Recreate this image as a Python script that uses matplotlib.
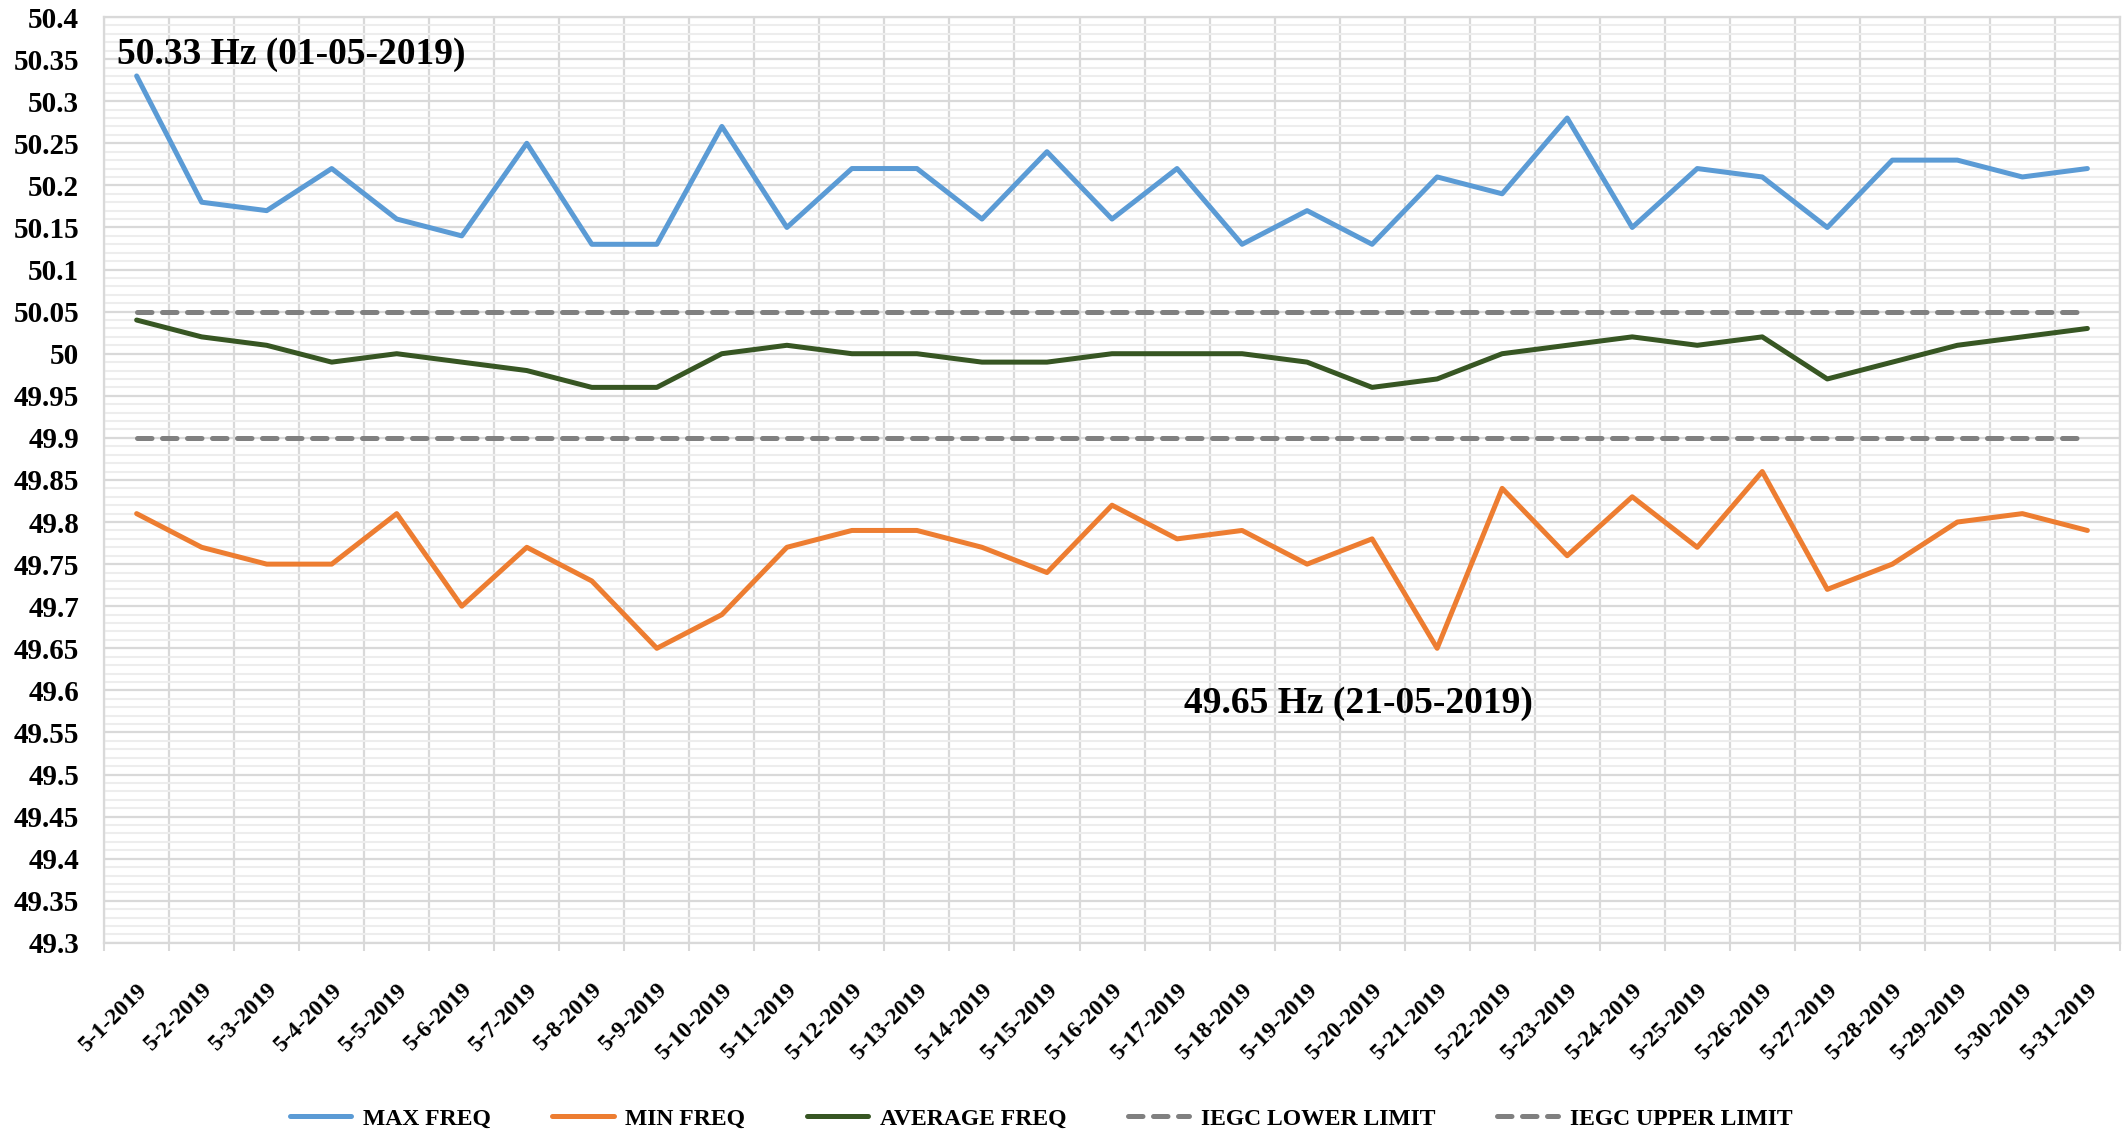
import numpy as np
import matplotlib
matplotlib.use('Agg')
from matplotlib import pyplot as plt
from matplotlib.ticker import MultipleLocator, FuncFormatter

dates = ['5-%d-2019' % d for d in range(1, 32)]

max_freq = [50.33, 50.18, 50.17, 50.22, 50.16, 50.14, 50.25, 50.13, 50.13, 50.27,
            50.15, 50.22, 50.22, 50.16, 50.24, 50.16, 50.22, 50.13, 50.17, 50.13,
            50.21, 50.19, 50.28, 50.15, 50.22, 50.21, 50.15, 50.23, 50.23, 50.21, 50.22]
min_freq = [49.81, 49.77, 49.75, 49.75, 49.81, 49.70, 49.77, 49.73, 49.65, 49.69,
            49.77, 49.79, 49.79, 49.77, 49.74, 49.82, 49.78, 49.79, 49.75, 49.78,
            49.65, 49.84, 49.76, 49.83, 49.77, 49.86, 49.72, 49.75, 49.80, 49.81, 49.79]
avg_freq = [50.04, 50.02, 50.01, 49.99, 50.00, 49.99, 49.98, 49.96, 49.96, 50.00,
            50.01, 50.00, 50.00, 49.99, 49.99, 50.00, 50.00, 50.00, 49.99, 49.96,
            49.97, 50.00, 50.01, 50.02, 50.01, 50.02, 49.97, 49.99, 50.01, 50.02, 50.03]
iegc_lower = [49.90] * 31
iegc_upper = [50.05] * 31

plt.rcParams['font.family'] = ['Liberation Serif', 'DejaVu Serif']
plt.rcParams['font.weight'] = 'bold'

fig, ax = plt.subplots(figsize=(21.25, 11.36), dpi=100)
fig.subplots_adjust(left=0.049, right=0.9976, top=0.985, bottom=0.170)

x = np.arange(len(dates))
lw = 3.6
ax.plot(x, max_freq, color='#5B9BD5', lw=lw, label='MAX FREQ', solid_capstyle='round', zorder=3)
ax.plot(x, min_freq, color='#ED7D31', lw=lw, label='MIN FREQ', solid_capstyle='round', zorder=3)
ax.plot(x, avg_freq, color='#375623', lw=lw, label='AVERAGE FREQ', solid_capstyle='round', zorder=3)
ax.plot(x, iegc_lower, color='#808080', lw=lw, dashes=(2.9, 2.1), dash_capstyle='round',
        label='IEGC LOWER LIMIT', zorder=3)
ax.plot(x, iegc_upper, color='#808080', lw=lw, dashes=(2.9, 2.1), dash_capstyle='round',
        label='IEGC UPPER LIMIT', zorder=3)

ax.set_xlim(-0.5, len(dates) - 0.5)
ax.set_ylim(49.3, 50.4)

ax.set_xticks(x)
ax.set_xticklabels(dates, rotation=45, ha='right', rotation_mode='anchor', fontsize=17, fontweight='bold')
ax.set_xticks(np.arange(len(dates) + 1) - 0.5, minor=True)
ax.tick_params(axis='x', which='major', length=0, pad=26)
ax.tick_params(axis='x', which='minor', length=6, color='#D9D9D9', width=1.5)

ax.yaxis.set_major_locator(MultipleLocator(0.05))
ax.yaxis.set_minor_locator(MultipleLocator(0.01))
ax.yaxis.set_major_formatter(FuncFormatter(lambda v, p: '%g' % round(v, 2)))
ax.tick_params(axis='y', which='both', length=0, pad=18, labelsize=21)
for lab in ax.get_yticklabels():
    lab.set_fontweight('bold')

ax.grid(which='major', axis='y', color='#D9D9D9', lw=1.6, zorder=0)
ax.grid(which='minor', axis='y', color='#EDEDED', lw=1.5, zorder=0)
ax.grid(which='minor', axis='x', color='#D9D9D9', lw=1.6, zorder=0)
ax.set_axisbelow(True)
for s in ax.spines.values():
    s.set_color('#D9D9D9')
    s.set_linewidth(1.6)

ax.text(-0.3, 50.356, '50.33 Hz (01-05-2019)', fontsize=27, fontweight='bold', ha='left', va='center')
ax.text(16.1, 49.585, '49.65 Hz (21-05-2019)', fontsize=27, fontweight='bold', ha='left', va='center')

fig.legend(loc='center', bbox_to_anchor=(0.49, 0.015), ncol=5, frameon=False,
           prop={'size': 17, 'weight': 'bold'}, handlelength=2.6, columnspacing=2.6, handletextpad=0.5)

fig.savefig('out.png', dpi=100, facecolor='white')
